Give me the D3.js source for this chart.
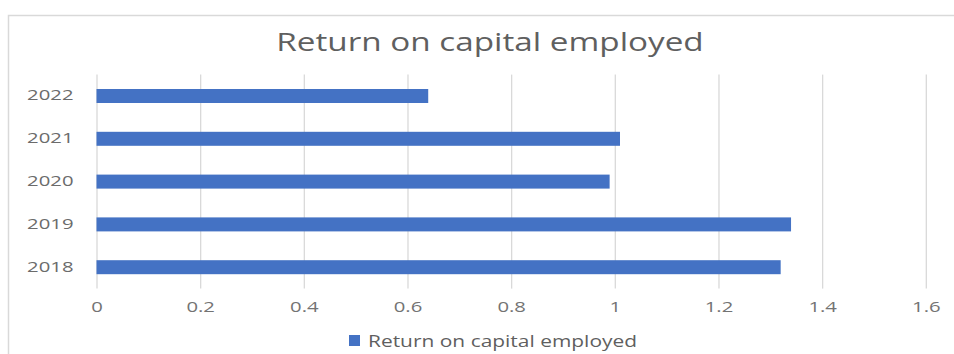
<!DOCTYPE html>
<html>
<head>
<meta charset="utf-8">
<script src="https://cdn.jsdelivr.net/npm/d3@7"></script>
<style>
	body { margin: 0; background: #fff; }
	text { font-family: "Open Sans", sans-serif; }
</style>
</head>
<body>
<svg id="chart" width="954" height="354"></svg>
<script>
// data
var years = ['2022', '2021', '2020', '2019', '2018'];
var roce = [0.64, 1.01, 0.99, 1.34, 1.32];
var xTicks = [0, 0.2, 0.4, 0.6, 0.8, 1, 1.2, 1.4, 1.6];
var seriesName = 'Return on capital employed';

var width = 954, height = 354;
var plot = { left: 96.5, right: 925.8, top: 74.6, bottom: 288.6 };

var svg = d3.select('#chart');

// outer chart border (runs off the right and bottom edges)
svg.append('rect')
	.attr('x', 8.5)
	.attr('y', 15.5)
	.attr('width', 980)
	.attr('height', 380)
	.attr('fill', '#fff')
	.attr('stroke', '#d9d9d9')
	.attr('stroke-width', 1.5);

var x = d3.scaleLinear().domain([0, 1.6]).range([plot.left, plot.right]);
var y = d3.scaleBand().domain(years).range([plot.top, plot.bottom])
	.paddingInner(0.673).paddingOuter(0.3365);

// vertical gridlines + tick labels
var xAxis = d3.axisBottom(x)
	.tickValues(xTicks)
	.tickFormat(function (d) { return d3.format('')(+d.toFixed(1)); })
	.tickSize(-(plot.bottom - plot.top))
	.tickPadding(13);

var gx = svg.append('g')
	.attr('class', 'x axis')
	.attr('transform', 'translate(0,' + plot.bottom + ')')
	.call(xAxis);
gx.select('.domain').remove();
gx.selectAll('.tick line')
	.attr('stroke', '#d9d9d9')
	.attr('stroke-width', 1.3);
gx.selectAll('.tick text')
	.attr('fill', '#737373')
	.attr('data-stretch', 1.45)
	.style('font-size', '14px');

// bars
svg.append('g').selectAll('rect.bar')
	.data(years.map(function (d, i) { return { year: d, value: roce[i] }; }))
	.enter()
	.append('rect')
	.attr('class', 'bar')
	.attr('x', x(0))
	.attr('y', function (d) { return y(d.year); })
	.attr('width', function (d) { return x(d.value) - x(0); })
	.attr('height', y.bandwidth())
	.attr('fill', '#4472c4');

// category labels
var yAxis = d3.axisLeft(y).tickSize(0).tickPadding(23);
var gy = svg.append('g')
	.attr('class', 'y axis')
	.attr('transform', 'translate(' + plot.left + ',0)')
	.call(yAxis);
gy.select('.domain').remove();
gy.selectAll('.tick text')
	.attr('fill', '#6b6b6b')
	.attr('data-stretch', 1.45)
	.style('font-size', '14px');

// title
svg.append('text')
	.attr('class', 'title')
	.attr('x', 490)
	.attr('y', 51)
	.attr('text-anchor', 'middle')
	.attr('fill', '#5f5f5f')
	.attr('data-stretch', 1.33)
	.style('font-size', '25px')
	.text(seriesName);

// legend
var legend = svg.append('g').attr('class', 'legend');
legend.append('rect')
	.attr('x', 349)
	.attr('y', 335)
	.attr('width', 11)
	.attr('height', 11)
	.attr('fill', '#4472c4');
legend.append('text')
	.attr('x', 368)
	.attr('y', 346.5)
	.attr('fill', '#5f5f5f')
	.attr('data-stretch', 1.35)
	.style('font-size', '15.5px')
	.text(seriesName);

// widen every label the way the picture does
svg.selectAll('text').each(function () {
	var w = this.getComputedTextLength();
	var s = +this.getAttribute('data-stretch') || 1.4;
	d3.select(this)
		.attr('textLength', w * s)
		.attr('lengthAdjust', 'spacingAndGlyphs');
});
</script>
</body>
</html>
